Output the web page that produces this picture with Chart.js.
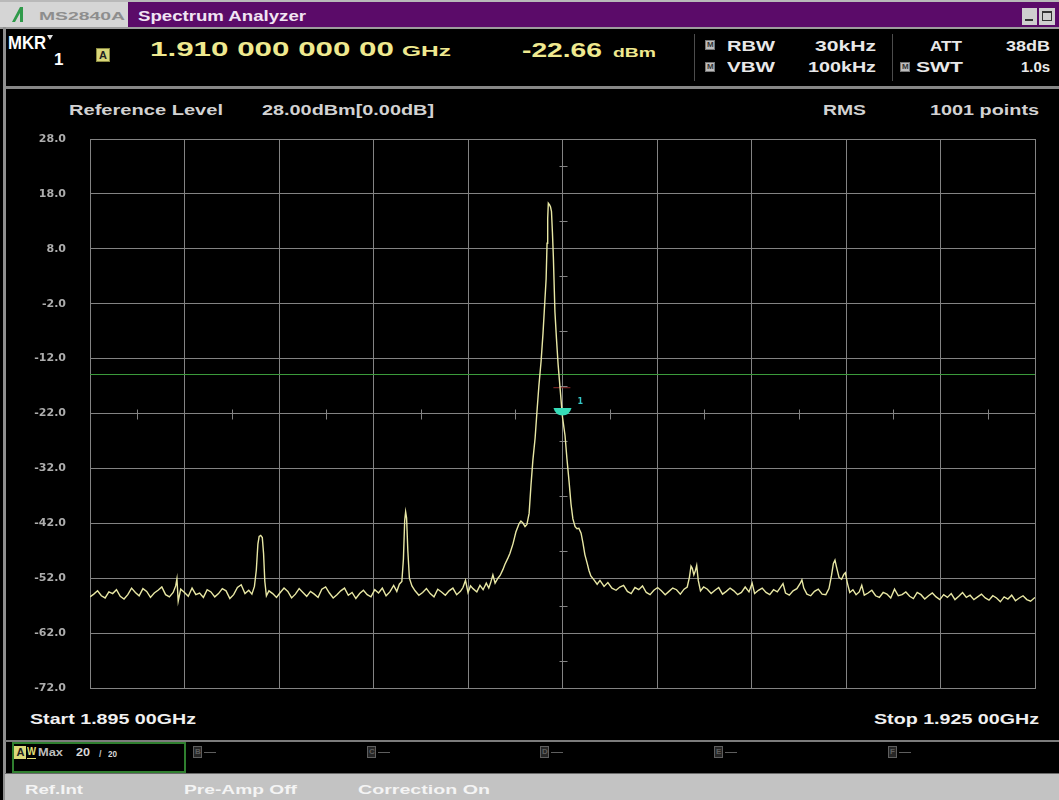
<!DOCTYPE html>
<html><head><meta charset="utf-8">
<script src="https://cdn.jsdelivr.net/npm/chart.js@4.4.1/dist/chart.umd.min.js"></script>
<style>
html,body{margin:0;padding:0;background:#000;width:1059px;height:800px;overflow:hidden;}
#root{position:relative;width:1059px;height:800px;background:#000;overflow:hidden;}
.t{position:absolute;white-space:nowrap;font-family:'Liberation Sans',Arial,sans-serif;font-weight:bold;line-height:1;transform-origin:0 50%;}
.b{position:absolute;box-sizing:border-box;}
canvas{position:absolute;left:0;top:130px;}
</style></head><body><div id="root">
<div class="b" style="left:0;top:0;width:1059px;height:28px;background:#5b0b69"></div>
<div class="b" style="left:0;top:0;width:1059px;height:2px;background:#b9b9b9"></div>
<div class="b" style="left:0;top:2px;width:128px;height:25px;background:#d5d5d5"></div>
<svg class="b" style="left:11px;top:6px" width="18" height="17" viewBox="0 0 18 17"><polygon points="1,16 9,1 12,1 12,16 9,16 9,7 4,16" fill="#2f9a4a"/></svg>
<div class="b" style="left:1022px;top:8px;width:15px;height:17px;background:#cfcfcf"></div>
<div class="b" style="left:1025px;top:19px;width:8px;height:2px;background:#333"></div>
<div class="b" style="left:1039px;top:8px;width:16px;height:17px;background:#cfcfcf"></div>
<div class="b" style="left:1042px;top:11px;width:10px;height:10px;border:1px solid #333;border-top-width:2px"></div>
<div class="b" style="left:0;top:27px;width:1059px;height:2px;background:#9d9d9d"></div>
<div class="b" style="left:5px;top:86px;width:1054px;height:3px;background:#878787"></div>
<div class="b" style="left:3px;top:27px;width:3px;height:773px;background:#8f8f8f"></div>
<div class="b" style="left:47px;top:35px;width:0;height:0;border-left:3.5px solid transparent;border-right:3.5px solid transparent;border-top:5px solid #e0e0e0"></div>
<div class="b" style="left:96px;top:48px;width:14px;height:14px;background:#d9d77a;border:1px solid #8a8a40"></div>
<div class="b" style="left:694px;top:34px;width:1px;height:47px;background:#4c4c4c"></div>
<div class="b" style="left:892px;top:34px;width:1px;height:47px;background:#4c4c4c"></div>
<div class="b" style="left:705px;top:40px;width:10px;height:10px;background:#bdbdbd;border:1px solid #777"></div>
<div class="b" style="left:705px;top:62px;width:10px;height:10px;background:#bdbdbd;border:1px solid #777"></div>
<div class="b" style="left:900px;top:62px;width:10px;height:10px;background:#bdbdbd;border:1px solid #777"></div>
<div class="b" style="left:5px;top:740px;width:1054px;height:2px;background:#7c7c7c"></div>
<div class="b" style="left:12px;top:742px;width:174px;height:31px;border:2px solid #2f7f2f"></div>
<div class="b" style="left:14px;top:746px;width:12px;height:13px;background:#dcd97a"></div>
<div class="b" style="left:27px;top:758px;width:9px;height:1px;background:#e5e07a"></div>
<div class="b" style="left:5px;top:773px;width:1054px;height:1px;background:#6a6a6a"></div>
<div class="b" style="left:5px;top:774px;width:1054px;height:26px;background:#c3c3c3"></div>
<canvas id="c" width="1059" height="568"></canvas>
</div>
<script>
// ---------------- data ----------------
const startMHz = 1895, stopMHz = 1925;
const xTickMHz = [1895,1898,1901,1904,1907,1910,1913,1916,1919,1922,1925];
const yTickDbm = [28,18,8,-2,-12,-22,-32,-42,-52,-62,-72];
const markerMHz = 1910.0, markerDbm = -22.66;
const displayLineDbm = -14.9;
const markerGuideDbm = -17.3;

const floorBelowCarrier = [
[1895.00,-55.4],[1895.12,-54.9],[1895.24,-54.3],[1895.36,-55.2],[1895.48,-55.6],[1895.60,-54.5],[1895.72,-54.8],[1895.84,-54.1],
[1895.96,-55.3],[1896.08,-55.8],[1896.20,-55.0],[1896.32,-53.8],[1896.44,-54.6],[1896.56,-55.2],[1896.68,-53.9],[1896.80,-54.4],
[1896.92,-55.5],[1897.04,-54.7],[1897.16,-54.2],[1897.28,-53.6],[1897.40,-55.0],[1897.52,-55.4],[1897.64,-54.6],[1897.72,-53.4],
[1897.76,-52.1],[1897.80,-56.2],[1897.88,-54.0],[1898.00,-54.6],[1898.12,-55.3],[1898.24,-53.8],[1898.36,-55.0],[1898.48,-54.7],
[1898.60,-55.5],[1898.72,-54.1],[1898.84,-54.5],[1898.96,-55.4],[1899.08,-54.8],[1899.20,-53.9],[1899.32,-54.3],[1899.44,-55.7],
[1899.56,-55.0],[1899.68,-53.7],[1899.80,-53.2],[1899.92,-54.8],[1900.04,-54.2],[1900.14,-54.9],[1900.22,-53.5],
[1900.28,-50.5],[1900.33,-45.8],[1900.37,-44.4],[1900.42,-44.2],[1900.47,-44.6],[1900.51,-47.5],[1900.55,-52.6],[1900.60,-55.2],
[1900.68,-54.3],[1900.80,-54.8],[1900.92,-55.5],[1901.04,-54.6],[1901.16,-53.8],[1901.28,-54.4],[1901.40,-55.6],[1901.52,-54.9],
[1901.64,-53.9],[1901.76,-54.6],[1901.88,-55.3],[1902.00,-54.4],[1902.12,-54.9],[1902.24,-55.5],[1902.36,-54.0],[1902.48,-53.6],
[1902.60,-54.7],[1902.72,-55.6],[1902.84,-55.0],[1902.96,-54.3],[1903.08,-53.8],[1903.20,-55.1],[1903.32,-54.6],[1903.44,-55.7],
[1903.56,-54.8],[1903.68,-54.2],[1903.80,-55.0],[1903.92,-55.4],[1904.04,-54.1],[1904.16,-54.7],[1904.28,-53.8],[1904.40,-55.2],
[1904.52,-54.5],[1904.64,-53.3],[1904.74,-54.4],[1904.82,-53.1],[1904.90,-52.6],
[1904.95,-48.5],[1904.99,-41.5],[1905.02,-39.9],[1905.05,-41.0],[1905.09,-47.0],[1905.14,-52.0],[1905.22,-53.4],[1905.32,-54.3],
[1905.44,-55.1],[1905.56,-54.6],[1905.68,-53.9],[1905.80,-54.8],[1905.92,-55.4],[1906.04,-54.0],[1906.16,-54.5],[1906.28,-55.1],
[1906.40,-54.3],[1906.52,-53.8],[1906.64,-55.0],[1906.76,-54.4],[1906.84,-53.7],[1906.92,-52.4],[1907.00,-54.6],[1907.08,-53.4]
];

const carrier = [
[1907.16,-53.9],[1907.28,-54.5],[1907.38,-53.3],[1907.48,-54.1],[1907.58,-52.9],[1907.66,-53.8],[1907.72,-52.8],[1907.79,-51.4],
[1907.86,-52.9],[1907.95,-52.0],[1908.02,-51.5],[1908.11,-50.4],[1908.17,-49.5],[1908.27,-48.3],[1908.33,-47.5],[1908.43,-45.7],
[1908.52,-43.6],[1908.62,-42.1],[1908.68,-41.6],[1908.75,-42.0],[1908.81,-42.6],[1908.87,-42.2],[1908.94,-40.2],[1909.00,-35.0],
[1909.06,-30.5],[1909.13,-26.5],[1909.19,-21.6],[1909.25,-17.0],[1909.32,-12.5],[1909.38,-7.5],[1909.44,-1.5],[1909.48,2.5],
[1909.51,9.0],[1909.53,13.5],[1909.55,16.3],[1909.59,16.0],[1909.62,15.6],[1909.65,14.8],[1909.68,11.0],[1909.71,6.5],
[1909.76,-3.5],[1909.81,-8.5],[1909.86,-13.0],[1909.92,-17.2],[1910.00,-22.66],[1910.08,-26.0],[1910.14,-30.2],[1910.21,-34.5],
[1910.27,-38.5],[1910.33,-41.2],[1910.40,-42.6],[1910.46,-43.0],[1910.52,-42.9],[1910.59,-43.8],[1910.65,-45.6],[1910.71,-47.7],
[1910.78,-49.2],[1910.84,-50.6],[1910.90,-51.6],[1911.00,-52.3],[1911.10,-53.1],[1911.19,-52.4],[1911.32,-53.5],[1911.44,-52.8],
[1911.57,-53.8]
];

const floorAboveCarrier = [
[1911.70,-54.2],[1911.82,-53.6],[1911.94,-53.3],[1912.06,-54.4],[1912.18,-54.8],[1912.30,-53.7],[1912.42,-54.1],[1912.54,-53.4],
[1912.66,-54.6],[1912.78,-55.0],[1912.90,-54.2],[1913.02,-53.7],[1913.14,-54.3],[1913.26,-55.0],[1913.38,-54.4],[1913.50,-53.8],
[1913.62,-54.1],[1913.74,-54.9],[1913.86,-54.0],[1913.96,-53.6],
[1914.03,-51.8],[1914.08,-49.8],[1914.12,-50.2],[1914.17,-51.4],[1914.22,-50.6],[1914.26,-49.7],[1914.31,-52.4],[1914.38,-54.3],
[1914.48,-53.6],[1914.60,-54.0],[1914.72,-54.8],[1914.84,-54.2],[1914.96,-53.7],[1915.08,-54.9],[1915.20,-54.4],[1915.32,-53.8],
[1915.44,-54.3],[1915.56,-55.0],[1915.68,-54.6],[1915.80,-53.6],[1915.92,-54.5],[1916.02,-52.9],[1916.10,-54.8],[1916.22,-54.2],
[1916.34,-53.8],[1916.46,-54.6],[1916.58,-55.0],[1916.70,-54.1],[1916.82,-54.5],[1916.94,-53.5],[1917.00,-53.0],[1917.08,-54.7],
[1917.20,-55.1],[1917.32,-54.3],[1917.44,-53.9],[1917.54,-53.0],[1917.60,-52.3],[1917.66,-53.8],[1917.76,-54.9],[1917.88,-55.2],
[1918.00,-54.4],[1918.12,-54.0],[1918.24,-54.9],[1918.36,-55.0],[1918.46,-53.9],[1918.54,-51.5],[1918.60,-49.3],[1918.65,-48.7],
[1918.70,-50.0],[1918.78,-51.9],[1918.86,-52.2],[1918.93,-51.3],[1918.98,-51.0],[1919.04,-52.8],[1919.12,-54.6],[1919.22,-54.1],
[1919.32,-55.0],[1919.42,-54.5],[1919.50,-53.3],[1919.58,-55.1],[1919.70,-54.7],[1919.82,-54.2],[1919.94,-55.2],[1920.06,-55.5],
[1920.18,-54.6],[1920.30,-54.9],[1920.42,-55.6],[1920.54,-54.0],[1920.66,-55.2],[1920.78,-55.0],[1920.90,-54.5],[1921.02,-55.3],
[1921.14,-55.7],[1921.26,-54.6],[1921.38,-55.0],[1921.50,-55.8],[1921.62,-55.2],[1921.74,-54.7],[1921.86,-55.4],[1921.98,-55.9],
[1922.10,-55.0],[1922.22,-55.5],[1922.34,-54.8],[1922.46,-55.9],[1922.58,-55.3],[1922.70,-54.6],[1922.82,-55.5],[1922.94,-55.1],
[1923.06,-55.9],[1923.18,-55.4],[1923.30,-54.9],[1923.42,-55.6],[1923.54,-56.0],[1923.66,-55.2],[1923.78,-55.6],[1923.90,-56.3],
[1924.02,-55.4],[1924.14,-55.8],[1924.26,-55.1],[1924.38,-56.1],[1924.50,-55.6],[1924.62,-55.2],[1924.74,-55.9],[1924.86,-56.2],
[1925.00,-55.5]
];

// ---------------- text ----------------
const Y = '#efe98f', W = '#f0f0f0', G = '#d2d2d2';
const texts = [
 ['MS2840A',39,16,11,86,'#8e8e8e'],
 ['Spectrum Analyzer',138,16,14,168,'#f1e4f3'],
 ['MKR',8,42,19,38,'#ffffff'],
 ['1',54,59,17,0,'#ffffff'],
 ['1.910 000 000 00',150,48,21,244,Y],
 ['GHz',402,50,15,49,Y],
 ['-22.66',522,49,21,80,Y],
 ['dBm',613,52,13,43,Y],
 ['RBW',727,45.5,14,48,'#e8e8e8'],
 ['30kHz',815,45.5,14,61,'#e8e8e8'],
 ['ATT',930,45.5,14,32,'#e8e8e8'],
 ['38dB',1006,45.5,14,44,'#e8e8e8'],
 ['VBW',727,67,14,48,'#e8e8e8'],
 ['100kHz',808,67,14,68,'#e8e8e8'],
 ['SWT',916,67,14,47,'#e8e8e8'],
 ['1.0s',1021,67,14,29,'#e8e8e8'],
 ['Reference Level',69,110,14,154,G],
 ['28.00dBm[0.00dB]',262,110,14,172,G],
 ['RMS',823,110,14,43,G],
 ['1001 points',930,110,14,109,G],
 ['Start 1.895 00GHz',30,718.5,14,166,W],
 ['Stop 1.925 00GHz',874,718.5,14,165,W],
 ['W',27,751,11,9,'#e5e07a'],
 ['Max',38,752,11,25,'#bdbdbd'],
 ['20',76,752,11,14,'#d8d8d8'],
 ['/',99,754,9,0,'#bdbdbd'],
 ['20',108,754,9,9,'#d8d8d8'],
 ['Ref.Int',25,789,13,58,'#f4f4f4'],
 ['Pre-Amp Off',184,789,13,113,'#f4f4f4'],
 ['Correction On',358,789,13,132,'#f4f4f4']
];
const root = document.getElementById('root');
function addText(s,left,cy,size,w,color){
  const d=document.createElement('div'); d.className='t'; d.textContent=s;
  d.style.left=left+'px'; d.style.top=(cy-size/2)+'px'; d.style.fontSize=size+'px'; d.style.color=color;
  root.appendChild(d);
  if(w){ const r=d.getBoundingClientRect().width; if(r>0) d.style.transform='scaleX('+(w/r)+')'; }
  return d;
}
texts.forEach(t=>addText(...t));
addText('A',99,55,11,0,'#222');
addText('A',16.5,752.5,11,0,'#222');
[['M',707,45],['M',707,67],['M',902,67]].forEach(m=>addText(m[0],m[1],m[2],8,0,'#333'));
[['B',193],['C',367],['D',540],['E',714],['F',888]].forEach(tb=>{
  const bx=document.createElement('div'); bx.className='b';
  Object.assign(bx.style,{left:tb[1]+'px',top:'746px',width:'9px',height:'12px',border:'1px solid #5e5e5e',background:'#262626'});
  root.appendChild(bx);
  addText(tb[0],tb[1]+2,752,8,0,'#5e5e5e');
  const ds=document.createElement('div'); ds.className='b';
  Object.assign(ds.style,{left:(tb[1]+11)+'px',top:'752px',width:'12px',height:'1px',background:'#5e5e5e'});
  root.appendChild(ds);
});

// ---------------- chart ----------------
const GRID = '#838383';
const toPts = a => a.map(p => ({x:p[0], y:p[1]}));
const tracePts = toPts(floorBelowCarrier).concat(toPts(carrier), toPts(floorAboveCarrier));

const graticule = {
  id:'graticule',
  beforeDatasetsDraw(chart){
    const {ctx, scales:{x,y}} = chart;
    const cx = Math.round(x.getPixelForValue(xTickMHz[5]))+0.5;
    const cy = Math.round(y.getPixelForValue(yTickDbm[5]))+0.5;
    ctx.save(); ctx.strokeStyle=GRID; ctx.lineWidth=1; ctx.beginPath();
    for(let i=0;i<yTickDbm.length-1;i++){
      const p=Math.round(y.getPixelForValue((yTickDbm[i]+yTickDbm[i+1])/2))+0.5;
      ctx.moveTo(cx-4,p); ctx.lineTo(cx+4,p);
    }
    for(let i=0;i<xTickMHz.length-1;i++){
      const p=Math.round(x.getPixelForValue((xTickMHz[i]+xTickMHz[i+1])/2))+0.5;
      ctx.moveTo(p,cy-5); ctx.lineTo(p,cy+5);
    }
    ctx.stroke(); ctx.restore();
  }
};
const markerPlugin = {
  id:'marker',
  afterDatasetsDraw(chart){
    const {ctx, scales:{x,y}} = chart;
    const px = x.getPixelForValue(markerMHz), py = y.getPixelForValue(markerDbm);
    const top = py-9, bot = py-1.5;
    ctx.save();
    ctx.fillStyle='#36dcb8';
    ctx.beginPath();
    ctx.moveTo(px-9,top); ctx.lineTo(px+9,top);
    ctx.quadraticCurveTo(px+7,bot,px,bot);
    ctx.quadraticCurveTo(px-7,bot,px-9,top);
    ctx.closePath(); ctx.fill();
    ctx.font='bold 8px "DejaVu Sans"'; ctx.fillStyle='#36c8c8'; ctx.textBaseline='middle';
    ctx.fillText('1', px+15, py-15);
    ctx.restore();
  }
};

new Chart(document.getElementById('c'), {
  type:'line',
  data:{datasets:[
    {data:tracePts, borderColor:'#e8e7a4', borderWidth:1.4, pointRadius:0, tension:0},
    {data:[{x:startMHz,y:displayLineDbm},{x:stopMHz,y:displayLineDbm}], borderColor:'#3c9c3c', borderWidth:1, pointRadius:0},
    {data:[{x:1909.71,y:markerGuideDbm},{x:1910.25,y:markerGuideDbm}], borderColor:'#8a2a2a', borderWidth:1, pointRadius:0}
  ]},
  options:{
    responsive:false, devicePixelRatio:1, animation:false, events:[],
    layout:{padding:{top:9,right:24,bottom:10,left:0}},
    plugins:{legend:{display:false}, tooltip:{enabled:false}},
    scales:{
      x:{type:'linear', min:startMHz, max:stopMHz,
         afterBuildTicks:s=>{s.ticks=xTickMHz.map(v=>({value:v}));},
         ticks:{display:false}, grid:{color:GRID, lineWidth:1, drawTicks:false},
         border:{display:true,color:GRID},
         afterFit:s=>{s.height=0; s.paddingLeft=0; s.paddingRight=0;}},
      y:{type:'linear', min:yTickDbm[yTickDbm.length-1], max:yTickDbm[0],
         afterBuildTicks:s=>{s.ticks=yTickDbm.map(v=>({value:v}));},
         ticks:{color:'#adadad', padding:24, font:{family:'DejaVu Sans', size:11, weight:'bold'}, callback:v=>Number(v).toFixed(1)},
         grid:{color:GRID, lineWidth:1, drawTicks:false}, border:{display:true,color:GRID},
         afterFit:s=>{s.width=90; s.paddingTop=0; s.paddingBottom=0;}}
    }
  },
  plugins:[graticule, markerPlugin]
});
</script>
</body></html>
